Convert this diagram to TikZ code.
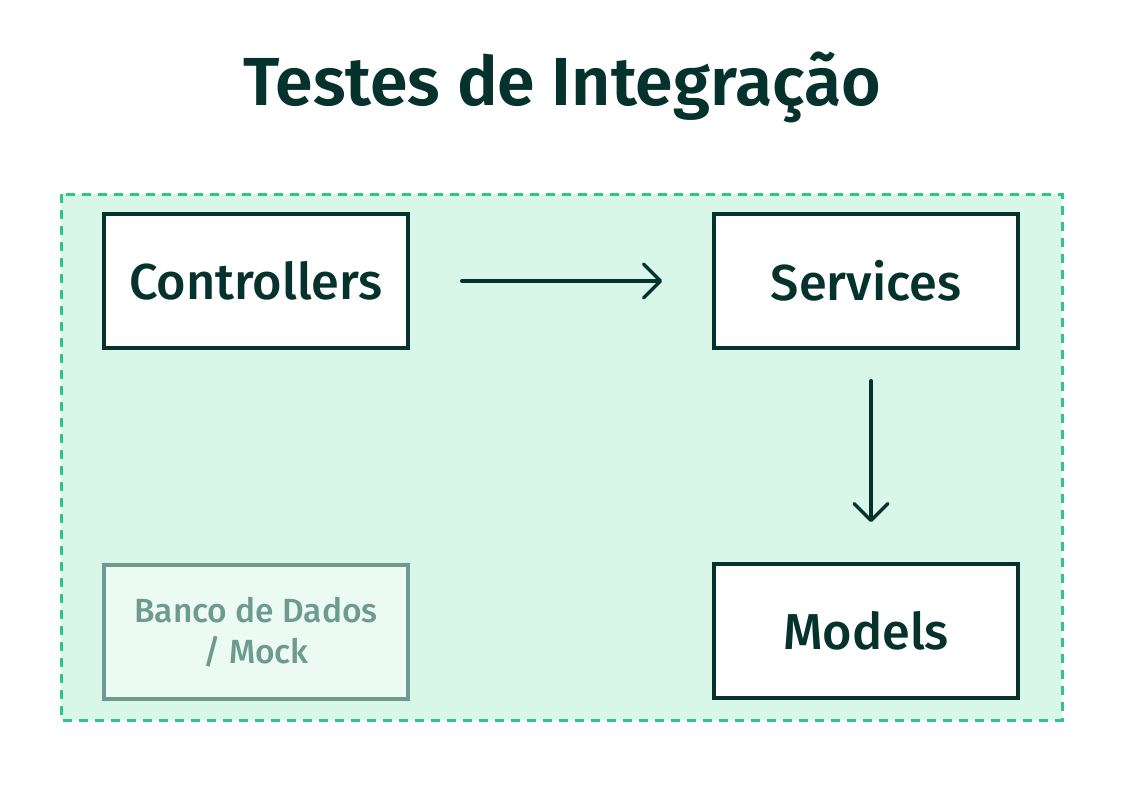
\documentclass[tikz,border=0pt]{standalone}
\usepackage{fontspec}
\setmainfont{Fira Sans}
\newfontfamily\titlefont{Fira Sans SemiBold}
\newfontfamily\boxfont{Fira Sans Medium}
\usetikzlibrary{arrows.meta}
\definecolor{ink}{HTML}{06322E}
\definecolor{zonefill}{HTML}{D8F7E9}
\definecolor{zoneline}{HTML}{2EC48A}
\definecolor{mockfill}{HTML}{EBFAF2}
\definecolor{mockline}{HTML}{6E9A8F}
\tikzset{
  layerbox/.style={draw=ink, line width=3.5pt, fill=white, minimum width=304pt, minimum height=134pt, inner sep=0pt, text=ink, font=\boxfont\fontsize{50.5}{58}\selectfont},
  mockbox/.style={draw=mockline, line width=3.5pt, fill=mockfill, minimum width=304pt, minimum height=134pt, inner sep=0pt, text=mockline, align=center, font=\boxfont\fontsize{33.5}{41}\selectfont},
  flow/.style={draw=ink, line width=3.5pt, line cap=round, -{Straight Barb[length=17pt,width=34pt,line cap=round,line join=round]}}
}
\begin{document}
\begin{tikzpicture}[x=1pt,y=-1pt]
\useasboundingbox (0,0) rectangle (1144,803);
\node[text=ink, font=\titlefont\fontsize{68}{80}\selectfont, anchor=base] (title) at (562,105) {Testes de Integração};
\draw[draw=zoneline, fill=zonefill, line width=3pt, dash pattern=on 9pt off 7pt] (61,194) rectangle (1062,720);
\coordinate (zone) at (561,457);
\node[layerbox] (ctrl) at (256,281) {Controllers};
\node[layerbox] (serv) at (866,281) {Services};
\node[layerbox] (models) at (866,631) {Models};
\node[mockbox] (mock) at (256,632) {Banco de Dados\\/ Mock};
\draw[flow] ([xshift=52pt]ctrl.east) -- ([xshift=-50pt]serv.west);
\draw[flow] ([xshift=5pt,yshift=-31pt]serv.south) -- ([xshift=5pt,yshift=40pt]models.north);
\end{tikzpicture}
\end{document}
